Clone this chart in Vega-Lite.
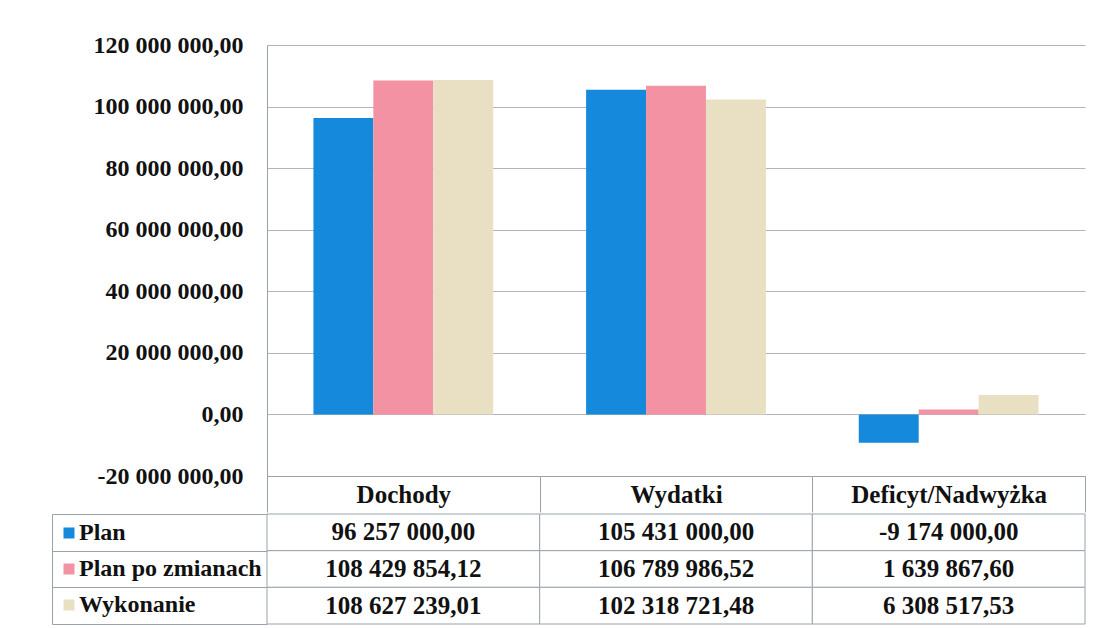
{
  "$schema": "https://vega.github.io/schema/vega-lite/v6.json",
  "padding": {"left": 51, "top": 33, "right": 5, "bottom": 2},
  "config": {
    "font": "Liberation Serif",
    "view": {"stroke": null},
    "locale": {"number": {"decimal": ",", "thousands": " ", "grouping": [3], "currency": ["", ""], "minus": "-"}}
  },
  "data": {
    "values": [
      {"kategoria": "Dochody", "seria": "Plan", "wartosc": 96257000.00},
      {"kategoria": "Dochody", "seria": "Plan po zmianach", "wartosc": 108429854.12},
      {"kategoria": "Dochody", "seria": "Wykonanie", "wartosc": 108627239.01},
      {"kategoria": "Wydatki", "seria": "Plan", "wartosc": 105431000.00},
      {"kategoria": "Wydatki", "seria": "Plan po zmianach", "wartosc": 106789986.52},
      {"kategoria": "Wydatki", "seria": "Wykonanie", "wartosc": 102318721.48},
      {"kategoria": "Deficyt/Nadwyżka", "seria": "Plan", "wartosc": -9174000.00},
      {"kategoria": "Deficyt/Nadwyżka", "seria": "Plan po zmianach", "wartosc": 1639867.60},
      {"kategoria": "Deficyt/Nadwyżka", "seria": "Wykonanie", "wartosc": 6308517.53}
    ]
  },
  "spacing": 0,
  "resolve": {
    "scale": {"x": "independent", "y": "independent", "color": "independent"},
    "legend": {"color": "independent"}
  },
  "vconcat": [
    {
      "width": 818,
      "height": 431,
      "mark": {"type": "bar"},
      "encoding": {
        "x": {
          "field": "kategoria", "type": "nominal", "title": null,
          "sort": ["Dochody", "Wydatki", "Deficyt/Nadwyżka"],
          "scale": {"paddingInner": 0, "paddingOuter": 0},
          "axis": {
            "orient": "bottom", "tickBand": "extent", "ticks": true, "tickSize": 36,
            "tickColor": "#9aa3ab", "domainColor": "#9aa3ab", "labelAngle": 0,
            "labelFontSize": 25, "labelFontWeight": "bold", "labelColor": "#111111", "labelPadding": -18,
            "labelBaseline": "middle", "labelLimit": 0
          }
        },
        "xOffset": {
          "field": "seria", "type": "nominal",
          "sort": ["Plan", "Plan po zmianach", "Wykonanie"],
          "scale": {"paddingInner": 0, "paddingOuter": 0.775}
        },
        "y": {
          "field": "wartosc", "type": "quantitative", "title": null,
          "scale": {"domain": [-20000000, 120000000], "nice": false},
          "axis": {
            "values": [-20000000, 0, 20000000, 40000000, 60000000, 80000000, 100000000, 120000000],
            "format": ",.2f", "labelFontSize": 24, "labelFontWeight": "bold", "labelColor": "#111111",
            "labelPadding": 24, "ticks": false, "domainColor": "#9aa3ab",
            "gridColor": "#b4b4b4"
          }
        },
        "color": {
          "field": "seria", "type": "nominal",
          "scale": {"domain": ["Plan", "Plan po zmianach", "Wykonanie"], "range": ["#1589dc", "#f392a2", "#e9e0c3"]},
          "legend": null
        }
      }
    },
    {
      "width": 818,
      "height": 110,
      "encoding": {
        "x": {
          "field": "kategoria", "type": "nominal", "title": null,
          "sort": ["Dochody", "Wydatki", "Deficyt/Nadwyżka"],
          "scale": {"paddingInner": 0, "paddingOuter": 0},
          "axis": null
        },
        "y": {
          "field": "seria", "type": "nominal", "title": null,
          "sort": ["Plan", "Plan po zmianach", "Wykonanie"],
          "scale": {"paddingInner": 0, "paddingOuter": 0},
          "axis": {
            "orient": "left", "offset": 215, "tickSize": -215, "tickBand": "extent",
            "labels": false, "domainColor": "#9aa3ab", "tickColor": "#9aa3ab"
          }
        }
      },
      "layer": [
        {"mark": {"type": "rect", "fill": "white", "stroke": "#9aa3ab", "strokeWidth": 1}},
        {
          "mark": {"type": "square", "opacity": 0},
          "encoding": {
            "color": {
              "field": "seria", "type": "nominal",
              "scale": {"domain": ["Plan", "Plan po zmianach", "Wykonanie"], "range": ["#1589dc", "#f392a2", "#e9e0c3"]},
              "legend": {
                "orient": "none", "legendX": -210, "legendY": 7, "title": null,
                "symbolType": "square", "symbolSize": 121, "symbolStrokeWidth": 0,
                "labelFontSize": 24, "labelFontWeight": "bold", "labelColor": "#111111", "labelOffset": -2,
                "rowPadding": 12, "padding": 0, "labelLimit": 0
              }
            }
          }
        },
        {
          "mark": {"type": "text", "fontSize": 25, "fontWeight": "bold", "color": "#111111"},
          "encoding": {"text": {"field": "wartosc", "type": "quantitative", "format": ",.2f"}}
        }
      ]
    }
  ]
}
